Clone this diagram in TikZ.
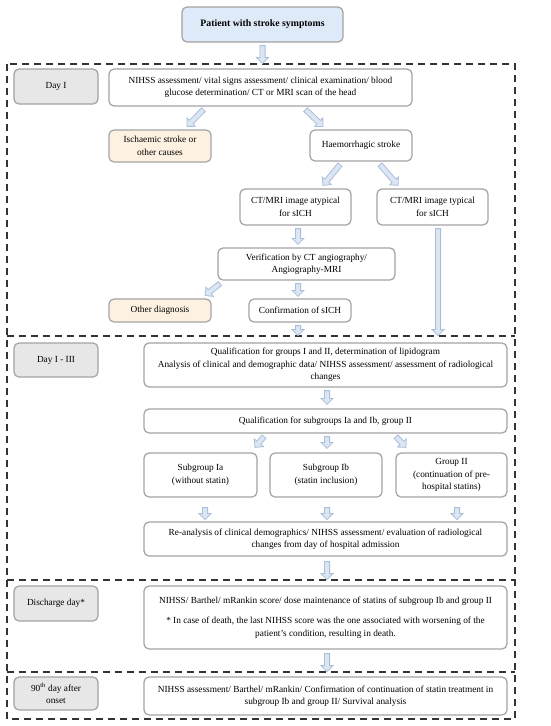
\documentclass[tikz,border=0pt]{standalone}
\usepackage{fontspec}
\setmainfont{Liberation Serif}
\usepackage{tikz}
\usetikzlibrary{calc}

\definecolor{boxline}{HTML}{A3A3A3}
\definecolor{grayfill}{HTML}{E7E7E7}
\definecolor{bluefill}{HTML}{DEEAF8}
\definecolor{orangefill}{HTML}{FDF1E2}
\definecolor{arrline}{HTML}{A9BFDA}
\definecolor{arrfill}{HTML}{DCE6F2}
\definecolor{frameline}{HTML}{333333}

% block arrow from #1 to #2
\newcommand{\barr}[2]{%
    \coordinate (s) at #1;
    \coordinate (e) at #2;
    \coordinate (h) at ($(e)!6pt!(s)$);
    \draw [arrline,fill=arrfill,line width=0.8pt,line join=miter]
        ($(s)!2.6pt!90:(e)$) -- ($(h)!2.6pt!90:(e)$) -- ($(h)!6pt!90:(e)$) -- (e)
        -- ($(h)!6pt!-90:(e)$) -- ($(h)!2.6pt!-90:(e)$) -- ($(s)!2.6pt!-90:(e)$) -- cycle;
}

\begin{document}
\begin{tikzpicture}[x=1pt,y=-1pt,
        box/.style={draw=boxline,line width=1.2pt,rounded corners=5pt,fill=white,
            align=center,inner sep=2pt,font=\fontsize{9.3}{12.5}\selectfont},
        daybox/.style={box,fill=grayfill,minimum width=84pt,minimum height=35pt},
        frame/.style={draw=frameline,line width=1.6pt,dash pattern=on 7pt off 5pt}]
    \useasboundingbox (0,0) rectangle (550,726);

    % time frames
    \draw [frame] (7,64) rectangle (515,719);
    \draw [frame] (7,336) -- (515,336);
    \draw [frame] (7,580) -- (515,580);
    \draw [frame] (7,672) -- (515,672);

    % day I
    \node [box,fill=bluefill,minimum width=161pt,minimum height=35pt,
        font=\bfseries\fontsize{9.8}{12}\selectfont] (patient) at (262.5,24.5) {Patient with stroke symptoms};
    \node [daybox] (dayone) at (56,86.5) {Day I};
    \node [box,minimum width=303pt,minimum height=37pt] (nihss) at (260.5,87.5)
        {NIHSS assessment/ vital signs assessment/ clinical examination/ blood\\ glucose determination/ CT or MRI scan of the head};
    \node [box,fill=orangefill,minimum width=102pt,minimum height=32pt] (isch) at (160,146)
        {Ischaemic stroke or\\ other causes};
    \node [box,minimum width=102pt,minimum height=31pt] (haem) at (361,145.5) {Haemorrhagic stroke};
    \node [box,minimum width=111pt,minimum height=36pt] (atyp) at (295.5,207) {CT/MRI image atypical\\ for sICH};
    \node [box,minimum width=111pt,minimum height=36pt] (typ) at (432.5,207) {CT/MRI image typical\\ for sICH};
    \node [box,minimum width=177pt,minimum height=32pt] (verif) at (306.5,264)
        {Verification by CT angiography/\\ Angiography-MRI};
    \node [box,fill=orangefill,minimum width=102pt,minimum height=23pt] (other) at (160,310.5) {Other diagnosis};
    \node [box,minimum width=102pt,minimum height=23pt] (conf) at (300,310.5) {Confirmation of sICH};

    % day I - III
    \node [daybox,minimum height=34pt] (daythree) at (56,360) {Day I - III};
    \node [box,minimum width=363pt,minimum height=44pt] (qual) at (325.5,365)
        {Qualification for groups I and II, determination of lipidogram\\
        Analysis of clinical and demographic data/ NIHSS assessment/ assessment of radiological\\ changes};
    \node [box,minimum width=363pt,minimum height=24pt] (qsub) at (325.5,421)
        {Qualification for subgroups Ia and Ib, group II};
    \node [box,minimum width=113pt,minimum height=44pt] (sia) at (200.5,475) {Subgroup Ia\\ (without statin)};
    \node [box,minimum width=112pt,minimum height=44pt] (sib) at (326,475) {Subgroup Ib\\ (statin inclusion)};
    \node [box,minimum width=111pt,minimum height=44pt] (gtwo) at (451.5,475)
        {Group II\\ (continuation of pre-\\ hospital statins)};
    \node [box,minimum width=363pt,minimum height=34pt] (rean) at (325.5,539)
        {Re-analysis of clinical demographics/ NIHSS assessment/ evaluation of radiological\\
        changes from day of hospital admission};

    % discharge and day 90
    \node [daybox] (disch) at (56,603.5) {Discharge day*};
    \node [box,minimum width=363pt,minimum height=63pt] (dbox) at (325.5,617.5)
        {NIHSS/ Barthel/ mRankin score/ dose maintenance of statins of subgroup Ib and group II\\[8pt]
        * In case of death, the last NIHSS score was the one associated with worsening of the\\
        patient’s condition, resulting in death.};
    \node [daybox,minimum height=33pt] (dninety) at (56,693.5) {90\textsuperscript{th} day after\\ onset};
    \node [box,minimum width=363pt,minimum height=38pt] (last) at (325.5,696)
        {NIHSS assessment/ Barthel/ mRankin/ Confirmation of continuation of statin treatment in\\
        subgroup Ib and group II/ Survival analysis};

    % arrows
    \barr{([yshift=-3pt]patient.south)}{([yshift=-21pt]patient.south)}
    \barr{([xshift=-57pt,yshift=-3pt]nihss.south)}{([xshift=27pt,yshift=3pt]isch.north)}
    \barr{([xshift=45pt,yshift=-3pt]nihss.south)}{([xshift=-38pt,yshift=3pt]haem.north)}
    \barr{([xshift=-21pt,yshift=-3pt]haem.south)}{([xshift=27.5pt,yshift=3pt]atyp.north)}
    \barr{([xshift=19pt,yshift=-3pt]haem.south)}{([xshift=-34.5pt,yshift=3pt]typ.north)}
    \barr{([xshift=2.5pt,yshift=-3pt]atyp.south)}{([xshift=-8.5pt,yshift=3pt]verif.north)}
    \barr{([xshift=5.5pt,yshift=-3pt]typ.south)}{([xshift=5.5pt,yshift=-110pt]typ.south)}
    \barr{([xshift=-86.5pt,yshift=-3pt]verif.south)}{([xshift=45pt,yshift=3pt]other.north)}
    \barr{([xshift=-8.5pt,yshift=-3pt]verif.south)}{([xshift=-2pt,yshift=2pt]conf.north)}
    \barr{([xshift=-2pt,yshift=-3pt]conf.south)}{([xshift=-2pt,yshift=-13pt]conf.south)}
    \barr{([xshift=1.5pt,yshift=-3pt]qual.south)}{([xshift=1.5pt,yshift=4pt]qsub.north)}
    \barr{([xshift=-61.5pt,yshift=-3pt]qsub.south)}{([xshift=54.5pt,yshift=5pt]sia.north)}
    \barr{([xshift=1.5pt,yshift=-3pt]qsub.south)}{([xshift=1pt,yshift=4pt]sib.north)}
    \barr{([xshift=70.5pt,yshift=-3pt]qsub.south)}{([xshift=-45.5pt,yshift=5pt]gtwo.north)}
    \barr{([xshift=4.5pt,yshift=-10pt]sia.south)}{([xshift=4.5pt,yshift=-22pt]sia.south)}
    \barr{([xshift=1pt,yshift=-10pt]sib.south)}{([xshift=1pt,yshift=-22pt]sib.south)}
    \barr{([xshift=5.5pt,yshift=-10pt]gtwo.south)}{([xshift=5.5pt,yshift=-22pt]gtwo.south)}
    \barr{([xshift=1.5pt,yshift=-5pt]rean.south)}{([xshift=1.5pt,yshift=-23pt]rean.south)}
    \barr{([xshift=1.5pt,yshift=-4pt]dbox.south)}{([xshift=1.5pt,yshift=-22pt]dbox.south)}
\end{tikzpicture}
\end{document}
